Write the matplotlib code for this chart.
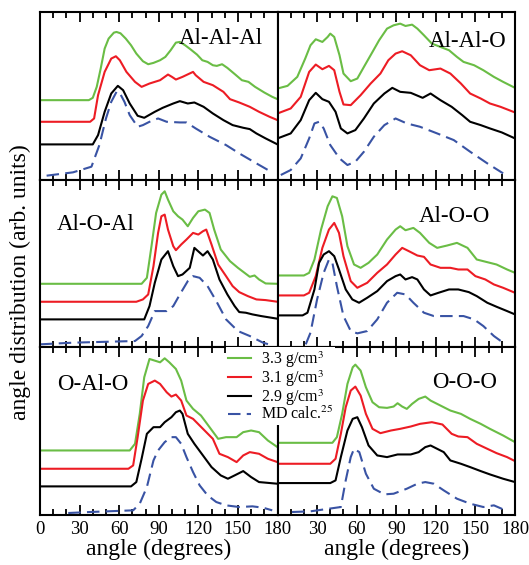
import matplotlib
matplotlib.use("Agg")
import matplotlib.pyplot as plt
from matplotlib.ticker import MultipleLocator
from matplotlib.lines import Line2D

plt.rcParams["font.family"] = ["Liberation Serif", "DejaVu Serif"]
plt.rcParams["mathtext.fontset"] = "stix"

# angle distributions (arb. units)
# Al-Al-Al
AAA_G_X = [0, 37, 40, 43, 46, 49, 52, 56, 58, 61, 65, 69, 73, 78, 82, 86, 91, 95, 99, 103, 106, 110, 114, 119, 123, 127, 131, 134, 138, 142, 148, 153, 158, 163, 170, 176, 180]
AAA_G_Y = [239, 239, 246, 279, 334, 394, 424, 442, 444, 440, 424, 404, 379, 356, 347, 351, 359, 369, 389, 412, 414, 404, 392, 376, 359, 354, 344, 342, 347, 336, 316, 299, 294, 279, 262, 249, 242]
AAA_R_X = [0, 38, 41, 44, 49, 54, 57.5, 60.5, 65.5, 72, 77, 83, 91, 97, 100, 103, 108, 116, 118, 124, 131, 139, 144, 151, 159, 166, 174, 180]
AAA_R_Y = [174, 174, 184, 254, 324, 364, 371, 359, 324, 294, 279, 289, 299, 316, 309, 301, 309, 324, 314, 294, 284, 264, 242, 232, 219, 204, 189, 179]
AAA_K_X = [0, 40, 44, 49, 54, 59, 63, 68, 74, 79, 87, 93, 101, 106, 112, 117, 124, 131, 139, 146, 154, 159, 164, 171, 180]
AAA_K_Y = [106, 106, 134, 204, 259, 282, 269, 229, 192, 186, 204, 216, 229, 236, 229, 232, 219, 199, 179, 164, 156, 152, 139, 124, 106]
AAA_B_X = [5, 25, 39, 45, 50, 54, 58, 60, 64, 68, 74, 78, 83, 89.5, 96, 106, 111, 118, 128.5, 141, 151, 164, 175]
AAA_B_Y = [12, 22, 39, 104, 184, 234, 264, 264, 234, 194, 159, 164, 174, 184, 174, 172, 172, 154, 129, 104, 79, 49, 24]

# Al-Al-O
AAO_G_X = [0, 7.6, 15, 21, 25, 29, 34, 38, 40, 43, 47, 50, 55.5, 60.5, 65.5, 72, 77, 83, 88, 93, 97, 102, 106, 111, 117, 123.5, 130, 136, 141, 149, 156, 164, 171, 180]
AAO_G_Y = [274, 282, 309, 364, 404, 422, 414, 429, 439, 429, 374, 319, 296, 304, 339, 384, 419, 454, 464, 469, 462, 466, 454, 434, 409, 399, 389, 369, 354, 344, 329, 309, 294, 276]
AAO_R_X = [0, 10, 17.6, 24, 29, 34, 39, 43, 47, 50, 55.5, 63, 70.6, 78, 84, 89.5, 94.5, 101, 108, 115, 123.5, 131, 139, 146, 154, 161, 169, 180]
AAO_R_Y = [199, 214, 249, 324, 346, 332, 342, 329, 264, 226, 224, 254, 289, 319, 359, 379, 386, 374, 344, 329, 334, 319, 289, 259, 244, 229, 219, 202]
AAO_K_X = [0, 10, 17.6, 24, 29, 34, 39, 44, 48, 53, 59, 65.5, 73, 81, 87, 93, 101, 110, 116, 123.5, 132, 140, 146, 154, 161, 170, 180]
AAO_K_Y = [124, 139, 179, 239, 261, 242, 234, 204, 154, 139, 149, 184, 229, 259, 276, 264, 261, 246, 259, 239, 219, 194, 174, 164, 154, 142, 124]
AAO_B_X = [2.5, 10, 17.6, 24, 28, 31.5, 35, 40, 47, 53, 59, 65.5, 73, 81, 89.5, 98, 108, 121, 133.6, 146, 159, 171]
AAO_B_Y = [14, 29, 64, 124, 169, 174, 154, 104, 64, 44, 54, 84, 129, 164, 184, 169, 159, 139, 119, 84, 49, 19]

# Al-O-Al
AOA_G_X = [0, 77, 81, 84.5, 88, 92, 94.5, 97, 101, 104.6, 108, 112, 116, 120, 125, 128.5, 132, 137, 144, 150, 155, 159, 162.6, 166, 171, 180]
AOA_G_Y = [191, 191, 209, 304, 404, 459, 469, 444, 409, 394, 384, 364, 389, 409, 414, 404, 354, 294, 259, 239, 224, 212, 216, 204, 192, 191]
AOA_R_X = [0, 73, 78, 82, 86, 89.5, 92, 94.5, 97, 101, 103, 107, 111, 116, 120, 123.5, 126, 130, 135, 141, 146, 151, 157.5, 164, 171, 180]
AOA_R_Y = [137, 137, 144, 159, 244, 344, 394, 399, 354, 304, 292, 309, 324, 344, 339, 349, 354, 309, 249, 214, 184, 166, 154, 144, 142, 137]
AOA_K_X = [0, 79, 83, 87, 92, 97, 101, 104.6, 108, 113.5, 117, 123.5, 127, 131, 136, 142, 147.5, 151, 156, 161, 167.6, 180]
AOA_K_Y = [84, 84, 124, 194, 264, 289, 244, 214, 219, 239, 299, 276, 289, 264, 204, 159, 124, 106, 104, 99, 94, 86]
AOA_B_X = [0, 25, 72, 77, 82, 87, 91, 96, 101, 106, 112, 116, 121, 127, 133.6, 141, 150, 159, 169, 176]
AOA_B_Y = [9, 14, 19, 34, 64, 109, 109, 109, 124, 159, 199, 214, 209, 184, 139, 84, 49, 34, 14, 6]

# Al-O-O
AOO_G_X = [0, 20, 24, 28, 33, 38, 41.6, 45, 49, 53, 58, 63, 69, 75.6, 83, 89.5, 93, 97, 103, 108, 115, 121, 128.5, 136, 144, 151, 159, 166, 174, 180]
AOO_G_Y = [216, 216, 224, 264, 354, 424, 454, 449, 394, 304, 249, 239, 254, 279, 324, 354, 364, 352, 359, 344, 314, 299, 306, 314, 299, 264, 256, 249, 234, 224]
AOO_R_X = [0, 20, 24, 29, 34, 39, 43, 46.6, 50, 55.5, 60.5, 68, 75.6, 83, 89.5, 94.5, 99.6, 106, 111, 116, 123.5, 131, 137, 144, 150, 157.5, 164, 171, 180]
AOO_R_Y = [156, 156, 164, 214, 299, 354, 374, 344, 274, 199, 179, 194, 224, 249, 279, 299, 289, 276, 272, 249, 239, 239, 234, 234, 214, 204, 189, 179, 164]
AOO_K_X = [0, 19, 22.7, 28, 31.5, 35, 39, 43, 46.6, 51.7, 56.7, 61.8, 68, 75.6, 83, 89.5, 93, 97, 102, 106, 111, 116, 122, 130, 137, 145, 151, 159, 166, 174, 180]
AOO_K_Y = [96, 96, 104, 174, 254, 279, 289, 274, 234, 174, 144, 134, 149, 169, 199, 214, 219, 204, 211, 204, 174, 156, 164, 174, 174, 166, 154, 134, 122, 109, 99]
AOO_B_X = [21.4, 25, 30, 35, 39, 41.6, 45, 50, 55.5, 60.5, 68, 75.6, 83, 90.7, 97, 103, 111, 118.5, 128.5, 141, 149, 156, 164, 171]
AOO_B_Y = [9, 44, 144, 224, 264, 254, 184, 94, 49, 42, 49, 84, 134, 164, 159, 134, 104, 94, 94, 94, 84, 64, 34, 14]

# O-Al-O
OAO_G_X = [0, 68, 72, 75.6, 79, 83, 87, 91, 94.5, 98, 103, 107, 111, 116, 122, 128.5, 135, 141, 149, 154, 160, 166, 172.7, 180]
OAO_G_Y = [194, 194, 214, 304, 414, 469, 464, 459, 471, 459, 439, 404, 344, 319, 299, 264, 229, 234, 234, 249, 254, 249, 224, 204]
OAO_R_X = [0, 67, 70.6, 74, 78, 82, 87, 91, 96, 99.6, 103, 107, 111, 116, 121, 126, 131, 136, 142.4, 149, 154, 159, 166, 172.7, 180]
OAO_R_Y = [139, 139, 149, 234, 344, 394, 404, 394, 369, 356, 362, 344, 299, 289, 269, 249, 229, 184, 174, 159, 179, 189, 184, 169, 159]
OAO_K_X = [0, 69, 73, 77, 81, 86, 91, 94.5, 99.6, 103, 106, 108, 112, 117, 123.5, 130, 137, 142.4, 147.5, 154, 160, 166, 180]
OAO_K_Y = [86, 86, 99, 169, 244, 264, 264, 279, 294, 309, 314, 304, 244, 214, 179, 144, 119, 109, 119, 132, 114, 99, 94]
OAO_B_X = [21.4, 38, 70.6, 75.6, 81, 86, 89.5, 94.5, 99.6, 103, 107, 111, 116, 121, 127, 133.6, 141, 151, 161, 169, 176]
OAO_B_Y = [6, 9, 14, 34, 84, 164, 194, 219, 234, 234, 214, 174, 129, 89, 59, 39, 29, 24, 26, 22, 14]

# O-O-O
OOO_G_X = [0, 41.6, 45, 49, 53, 57, 59, 63, 67, 72, 77, 83, 88, 91, 94.5, 98, 102, 107, 112, 116, 123.5, 131, 139, 146, 154, 161, 171, 180]
OOO_G_Y = [217, 217, 234, 304, 394, 444, 452, 434, 384, 339, 324, 322, 326, 336, 326, 319, 334, 349, 356, 344, 329, 314, 304, 289, 274, 259, 239, 219]
OOO_R_X = [0, 40, 44, 48, 51.7, 55.5, 59, 63, 67, 72, 78, 86, 93, 101, 108, 117, 125, 132, 137, 144, 151, 159, 166, 174, 180]
OOO_R_Y = [154, 154, 169, 244, 324, 374, 386, 359, 304, 259, 246, 254, 259, 266, 274, 279, 272, 244, 236, 234, 214, 199, 186, 174, 162]
OOO_K_X = [0, 40, 44, 48, 53, 57, 60.5, 64, 69, 75.6, 83, 91, 101, 107, 112, 116, 121, 126, 131, 139, 146, 154, 161, 171, 180]
OOO_K_Y = [96, 96, 104, 174, 254, 289, 294, 264, 209, 179, 174, 182, 182, 189, 204, 209, 199, 189, 164, 154, 144, 132, 122, 109, 99]
OOO_B_X = [11, 25, 48, 51.7, 55.5, 58, 62, 67, 73, 81, 88, 98, 106, 112, 118.5, 126, 136, 146, 156, 164, 172.7]
OOO_B_Y = [9, 11, 24, 104, 174, 199, 189, 124, 79, 62, 64, 79, 94, 99, 94, 74, 49, 34, 24, 29, 14]

titles = ["Al-Al-Al", "Al-Al-O", "Al-O-Al", "Al-O-O", "O-Al-O", "O-O-O"]
series_labels = ["3.3 g/cm$^3$", "3.1 g/cm$^3$", "2.9 g/cm$^3$", "MD calc.$^{25}$"]
xticks = [0, 30, 60, 90, 120, 150, 180]

GREEN = "#6abd45"
RED = "#ed1c24"
BLACK = "#000000"
BLUE = "#3953a4"

curves = [
    [(AAA_G_X, AAA_G_Y), (AAA_R_X, AAA_R_Y), (AAA_K_X, AAA_K_Y), (AAA_B_X, AAA_B_Y)],
    [(AAO_G_X, AAO_G_Y), (AAO_R_X, AAO_R_Y), (AAO_K_X, AAO_K_Y), (AAO_B_X, AAO_B_Y)],
    [(AOA_G_X, AOA_G_Y), (AOA_R_X, AOA_R_Y), (AOA_K_X, AOA_K_Y), (AOA_B_X, AOA_B_Y)],
    [(AOO_G_X, AOO_G_Y), (AOO_R_X, AOO_R_Y), (AOO_K_X, AOO_K_Y), (AOO_B_X, AOO_B_Y)],
    [(OAO_G_X, OAO_G_Y), (OAO_R_X, OAO_R_Y), (OAO_K_X, OAO_K_Y), (OAO_B_X, OAO_B_Y)],
    [(OOO_G_X, OOO_G_Y), (OOO_R_X, OOO_R_Y), (OOO_K_X, OOO_K_Y), (OOO_B_X, OOO_B_Y)],
]

# (x, baseline y, ha) of the panel labels in axes fraction
title_pos = [
    (0.937, 0.81, "right"),
    (0.966, 0.79, "right"),
    (0.07, 0.70, "left"),
    (0.895, 0.75, "right"),
    (0.07, 0.745, "left"),
    (0.924, 0.76, "right"),
]

styles = [
    dict(color=GREEN, lw=1.5),
    dict(color=RED, lw=1.5),
    dict(color=BLACK, lw=1.5),
    dict(color=BLUE, lw=1.5, ls=(0, (6, 3))),
]

fig = plt.figure(figsize=(5.29, 5.65), dpi=100)
gs = fig.add_gridspec(3, 2, left=40 / 529, right=515 / 529, top=1 - 12 / 565,
                      bottom=50 / 565, hspace=0, wspace=0)

for i in range(6):
    row, col = divmod(i, 2)
    ax = fig.add_subplot(gs[row, col])
    for (x, y), st in zip(curves[i], styles):
        ax.plot(x, y, **st)
    ax.set_xlim(0, 180)
    ax.set_ylim(0, 504)
    ax.set_yticks([])
    ax.xaxis.set_major_locator(MultipleLocator(30))
    ax.xaxis.set_minor_locator(MultipleLocator(10))
    ax.tick_params(axis="x", which="both", direction="in", top=True, bottom=True,
                   width=1.3, labelsize=13.5, pad=4)
    ax.tick_params(axis="x", which="major", length=7)
    ax.tick_params(axis="x", which="minor", length=4)
    for sp in ax.spines.values():
        sp.set_linewidth(1.5)
    tx, ty, ha = title_pos[i]
    ax.text(tx, ty, titles[i], transform=ax.transAxes, ha=ha, va="baseline", fontsize=16.5)
    if row == 2:
        labels = [str(t) for t in xticks]
        if col == 1:
            labels[0] = ""
        ax.set_xticks(xticks, labels=labels)
        ax.set_xlabel("angle (degrees)", fontsize=17, labelpad=1)
    else:
        ax.tick_params(axis="x", labelbottom=False)

fig.text(20 / 529, 1 - 282 / 565, "angle distribution (arb. units)", rotation=90,
         ha="center", va="center", fontsize=17)

handles = [Line2D([], [], **st) for st in styles]
leg = fig.legend(handles, series_labels, loc="upper left",
                 bbox_to_anchor=(226 / 529, 1 - 347 / 565), borderaxespad=0,
                 frameon=True, fancybox=False, framealpha=1, edgecolor="none",
                 facecolor="white", fontsize=11.5, handlelength=1.45,
                 handletextpad=0.6, labelspacing=-0.1, borderpad=0.12)
leg.set_zorder(10)

fig.savefig("out.png", dpi=100)
